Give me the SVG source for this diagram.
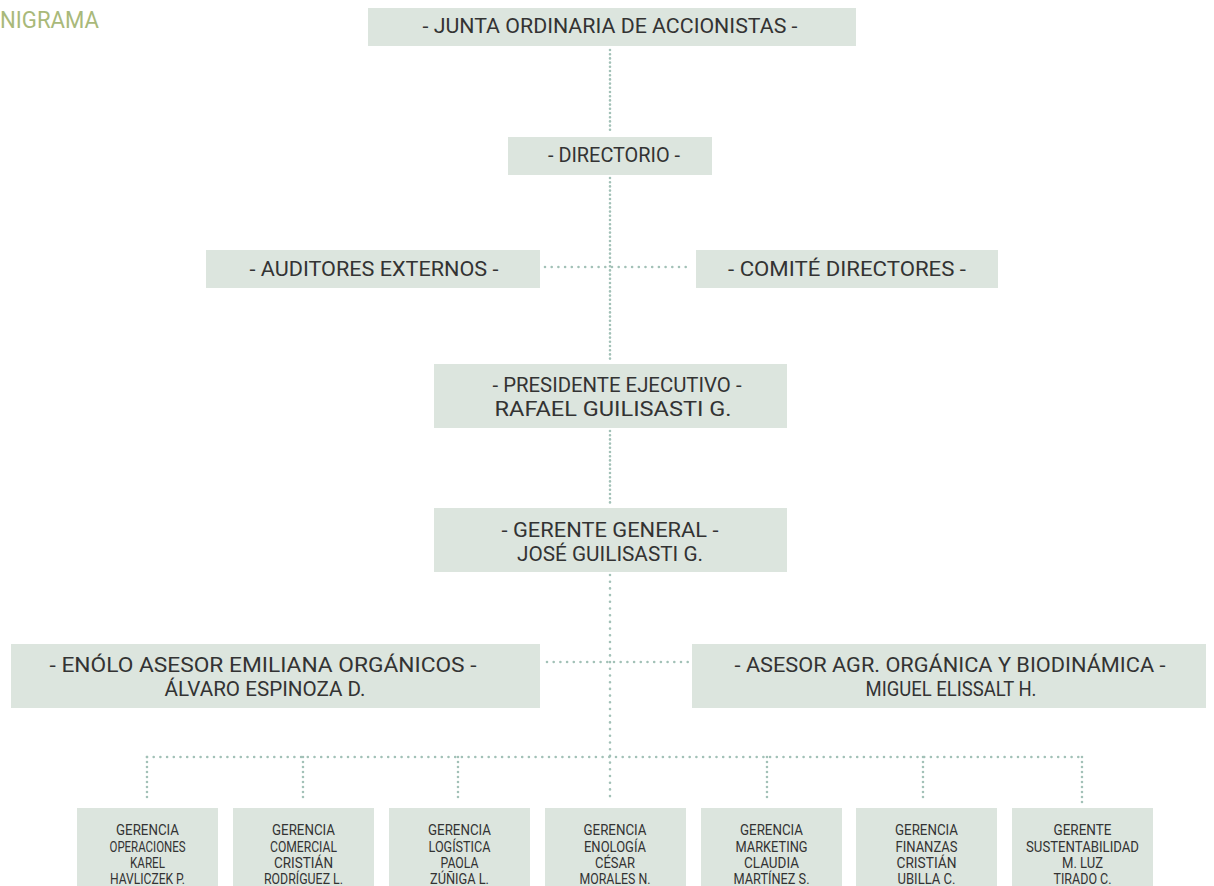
<svg xmlns="http://www.w3.org/2000/svg" width="1214" height="886" viewBox="0 0 1214 886">
<style>
.box{fill:#dce5de}
.t{font-family:Roboto,"Liberation Sans",sans-serif;font-size:21px;fill:#333333;text-anchor:middle}
.s{font-family:Roboto,"Liberation Sans",sans-serif;font-size:14px;fill:#333333;text-anchor:middle}
.title{font-family:Roboto,"Liberation Sans",sans-serif;font-size:23px;fill:#a9b97a}
.d{fill:none;stroke:#a2c1b7;stroke-width:2.6;stroke-linecap:round}
.v{stroke-dasharray:0 4.2}
.h{stroke-dasharray:0 6.7}
.b{stroke-dasharray:0 5}
</style>
<rect width="1214" height="886" fill="#ffffff"/>
<text class="title" x="0" y="28" textLength="99" lengthAdjust="spacingAndGlyphs">NIGRAMA</text>
<g id="connectors">
<path class="d v" d="M610 50 V133"/>
<path class="d v" d="M610 178 V361"/>
<path class="d h" d="M545 267 H692"/>
<path class="d v" d="M610 431 V505"/>
<path class="d h" d="M547 662 H690"/>
<path class="d h" d="M610 575 V800"/>
<path class="d h" d="M147 757 H1082"/>
<path class="d b" d="M147 757 V800"/>
<path class="d b" d="M303 757 V800"/>
<path class="d b" d="M458 757 V800"/>
<path class="d b" d="M767 757 V800"/>
<path class="d b" d="M923 757 V800"/>
<path class="d b" d="M1082 757 V803"/>
</g>
<g id="junta">
<rect class="box" x="368" y="8" width="488" height="38"/>
<text class="t" x="610" y="33" textLength="375" lengthAdjust="spacingAndGlyphs">- JUNTA ORDINARIA DE ACCIONISTAS -</text>
</g>
<g id="directorio">
<rect class="box" x="508" y="137" width="204" height="38"/>
<text class="t" x="614" y="162" textLength="132" lengthAdjust="spacingAndGlyphs">- DIRECTORIO -</text>
</g>
<g id="auditores">
<rect class="box" x="206" y="250" width="334" height="38"/>
<text class="t" x="374" y="276" textLength="249" lengthAdjust="spacingAndGlyphs">- AUDITORES EXTERNOS -</text>
</g>
<g id="comite">
<rect class="box" x="696" y="250" width="302" height="38"/>
<text class="t" x="847" y="276" textLength="238" lengthAdjust="spacingAndGlyphs">- COMITÉ DIRECTORES -</text>
</g>
<g id="presidente">
<rect class="box" x="434" y="364" width="353" height="64"/>
<text class="t" x="617" y="392" textLength="249" lengthAdjust="spacingAndGlyphs">- PRESIDENTE EJECUTIVO -</text>
<text class="t" x="613" y="416" textLength="237" lengthAdjust="spacingAndGlyphs">RAFAEL GUILISASTI G.</text>
</g>
<g id="gerente-general">
<rect class="box" x="434" y="508" width="353" height="64"/>
<text class="t" x="610" y="537" textLength="217" lengthAdjust="spacingAndGlyphs">- GERENTE GENERAL -</text>
<text class="t" x="610" y="561" textLength="186" lengthAdjust="spacingAndGlyphs">JOSÉ GUILISASTI G.</text>
</g>
<g id="enologo">
<rect class="box" x="11" y="644" width="529" height="64"/>
<text class="t" x="263" y="672" textLength="427" lengthAdjust="spacingAndGlyphs">- ENÓLO ASESOR EMILIANA ORGÁNICOS -</text>
<text class="t" x="265" y="696" textLength="201" lengthAdjust="spacingAndGlyphs">ÁLVARO ESPINOZA D.</text>
</g>
<g id="asesor">
<rect class="box" x="692" y="644" width="514" height="64"/>
<text class="t" x="950" y="672" textLength="431" lengthAdjust="spacingAndGlyphs">- ASESOR AGR. ORGÁNICA Y BIODINÁMICA -</text>
<text class="t" x="951" y="696" textLength="171" lengthAdjust="spacingAndGlyphs">MIGUEL ELISSALT H.</text>
</g>
<g id="operaciones">
<rect class="box" x="77" y="808" width="141" height="78"/>
<text class="s" x="147.5" y="835" textLength="63" lengthAdjust="spacingAndGlyphs">GERENCIA</text>
<text class="s" x="147.5" y="851.5" textLength="76" lengthAdjust="spacingAndGlyphs">OPERACIONES</text>
<text class="s" x="147.5" y="867.5" textLength="35" lengthAdjust="spacingAndGlyphs">KAREL</text>
<text class="s" x="147.5" y="883.5" textLength="75" lengthAdjust="spacingAndGlyphs">HAVLICZEK P.</text>
</g>
<g id="comercial">
<rect class="box" x="233" y="808" width="141" height="78"/>
<text class="s" x="303.5" y="835" textLength="63" lengthAdjust="spacingAndGlyphs">GERENCIA</text>
<text class="s" x="303.5" y="851.5" textLength="67" lengthAdjust="spacingAndGlyphs">COMERCIAL</text>
<text class="s" x="303.5" y="867.5" textLength="59" lengthAdjust="spacingAndGlyphs">CRISTIÁN</text>
<text class="s" x="303.5" y="883.5" textLength="79" lengthAdjust="spacingAndGlyphs">RODRÍGUEZ L.</text>
</g>
<g id="logistica">
<rect class="box" x="389" y="808" width="141" height="78"/>
<text class="s" x="459.5" y="835" textLength="63" lengthAdjust="spacingAndGlyphs">GERENCIA</text>
<text class="s" x="459.5" y="851.5" textLength="62" lengthAdjust="spacingAndGlyphs">LOGÍSTICA</text>
<text class="s" x="459.5" y="867.5" textLength="38" lengthAdjust="spacingAndGlyphs">PAOLA</text>
<text class="s" x="459.5" y="883.5" textLength="59" lengthAdjust="spacingAndGlyphs">ZÚÑIGA L.</text>
</g>
<g id="enologia">
<rect class="box" x="545" y="808" width="141" height="78"/>
<text class="s" x="615" y="835" textLength="63" lengthAdjust="spacingAndGlyphs">GERENCIA</text>
<text class="s" x="615" y="851.5" textLength="62" lengthAdjust="spacingAndGlyphs">ENOLOGÍA</text>
<text class="s" x="615" y="867.5" textLength="40" lengthAdjust="spacingAndGlyphs">CÉSAR</text>
<text class="s" x="615" y="883.5" textLength="71" lengthAdjust="spacingAndGlyphs">MORALES N.</text>
</g>
<g id="marketing">
<rect class="box" x="701" y="808" width="141" height="78"/>
<text class="s" x="771.5" y="835" textLength="63" lengthAdjust="spacingAndGlyphs">GERENCIA</text>
<text class="s" x="771.5" y="851.5" textLength="72" lengthAdjust="spacingAndGlyphs">MARKETING</text>
<text class="s" x="771.5" y="867.5" textLength="55" lengthAdjust="spacingAndGlyphs">CLAUDIA</text>
<text class="s" x="771.5" y="883.5" textLength="76" lengthAdjust="spacingAndGlyphs">MARTÍNEZ S.</text>
</g>
<g id="finanzas">
<rect class="box" x="856" y="808" width="141" height="78"/>
<text class="s" x="926.5" y="835" textLength="63" lengthAdjust="spacingAndGlyphs">GERENCIA</text>
<text class="s" x="926.5" y="851.5" textLength="62" lengthAdjust="spacingAndGlyphs">FINANZAS</text>
<text class="s" x="926.5" y="867.5" textLength="60" lengthAdjust="spacingAndGlyphs">CRISTIÁN</text>
<text class="s" x="926.5" y="883.5" textLength="58" lengthAdjust="spacingAndGlyphs">UBILLA C.</text>
</g>
<g id="sustentabilidad">
<rect class="box" x="1012" y="808" width="141" height="78"/>
<text class="s" x="1082.5" y="835" textLength="58" lengthAdjust="spacingAndGlyphs">GERENTE</text>
<text class="s" x="1082.5" y="851.5" textLength="113" lengthAdjust="spacingAndGlyphs">SUSTENTABILIDAD</text>
<text class="s" x="1082.5" y="867.5" textLength="41" lengthAdjust="spacingAndGlyphs">M. LUZ</text>
<text class="s" x="1082.5" y="883.5" textLength="58" lengthAdjust="spacingAndGlyphs">TIRADO C.</text>
</g>
</svg>
